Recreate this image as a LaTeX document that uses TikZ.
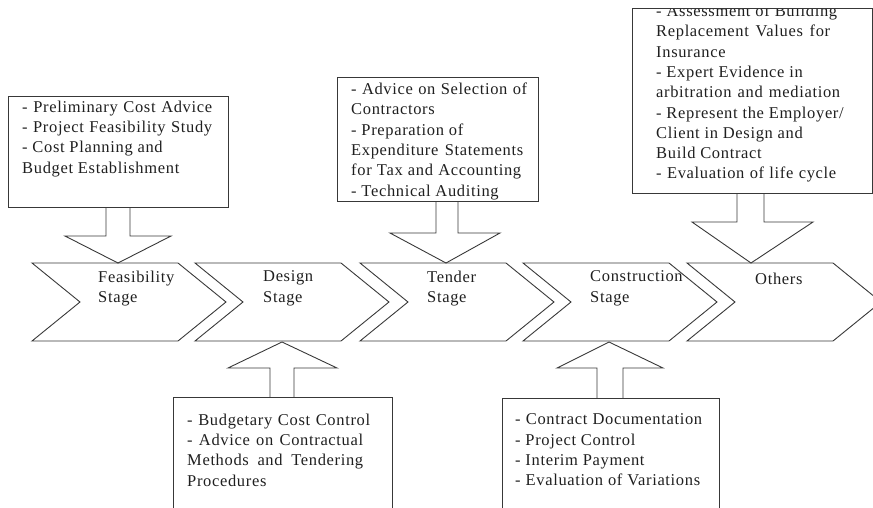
\documentclass[tikz,border=0pt]{standalone}
\usepackage{fontspec}
\setmainfont{Liberation Serif}[LetterSpace=4]
% a justified line of given width
\newcommand\spreadline[2]{\makebox[#1][s]{#2}}
\begin{document}
\begin{tikzpicture}[x=1pt,y=-1pt,
  outline/.style={draw=black!78, line width=0.9pt, line join=miter},
  txt/.style={anchor=north west, inner sep=0pt, align=left, text=black!88,
    font=\fontsize{16.5}{20.3}\selectfont},
]
\useasboundingbox (0,0) rectangle (873,507);
\clip (0,0) rectangle (873,507);

% ---- stage chevrons ----
\foreach \L/\nm in {32/feas,195/design,360/tender,523/constr,687/others}{
  \draw[outline] (\L,263) -- ++(146,0) -- ++(48,39) -- ++(-48,39)
    -- ++(-146,0) -- ++(48,-39) -- cycle;
}
\node[txt] (lfeas)   at (98,270.7)  {Feasibility\\Stage};
\node[txt] (ldesign) at (263,270.7) {Design\\Stage};
\node[txt] (ltender) at (427,270.7) {Tender\\Stage};
\node[txt] (lconstr) at (590,270.7) {Construction\\Stage};
\node[txt] (lothers) at (755,272.7) {Others};

% ---- feasibility services (above) ----
\draw[outline] (8,96) rectangle (228,207);
\draw[outline] (106,207) -- (106,236) -- (65,236) -- (118,263) -- (171,236)
  -- (130,236) -- (130,207);
\node[txt] (tfeas) at (22,100.7) {\spreadline{190pt}{- Preliminary Cost Advice}\\
  \spreadline{190pt}{- Project Feasibility Study}\\
  - Cost Planning and\\
  Budget Establishment};

% ---- tender services (above) ----
\draw[outline] (337,77) rectangle (538,201);
\draw[outline] (436,201) -- (436,233) -- (390,233) -- (446,263) -- (500,233)
  -- (458,233) -- (458,201);
\node[txt] (ttender) at (351,82.7) {\spreadline{176pt}{- Advice on Selection of}\\
  Contractors\\
  - Preparation of\\
  \spreadline{172pt}{Expenditure Statements}\\
  \spreadline{170pt}{for Tax and Accounting}\\
  - Technical Auditing};

% ---- other services (above) ----
\begin{scope}
  \clip (632,8) rectangle (872,193);
  \node[txt] (tothers) at (656,4.7) {\spreadline{181pt}{- Assessment of Building}\\
    \spreadline{174pt}{Replacement Values for}\\
    Insurance\\
    - Expert Evidence in\\
    \spreadline{184pt}{arbitration and mediation}\\
    - Represent the Employer/\\
    Client in Design and\\
    Build Contract\\
    \spreadline{180pt}{- Evaluation of life cycle}};
\end{scope}
\draw[outline] (632,8) rectangle (872,193);
\draw[outline] (737,193) -- (737,222) -- (692,222) -- (751,263) -- (813,222)
  -- (764,222) -- (764,193);

% ---- design services (below) ----
\draw[outline] (173,530) -- (173,397) -- (392,397) -- (392,530);
\draw[outline] (270,397) -- (270,368) -- (228,368) -- (282,342) -- (337,368)
  -- (294,368) -- (294,397);
\node[txt] (tdesign) at (187,413.7) {\spreadline{183pt}{- Budgetary Cost Control}\\
  \spreadline{176pt}{- Advice on Contractual}\\
  \spreadline{176pt}{Methods and Tendering}\\
  Procedures};

% ---- construction services (below) ----
\draw[outline] (502,530) -- (502,398) -- (719,398) -- (719,530);
\draw[outline] (597,398) -- (597,368) -- (557,368) -- (609,342) -- (663,368)
  -- (623,368) -- (623,398);
\node[txt] (tconstr) at (515,413.7) {\spreadline{187pt}{- Contract Documentation}\\
  - Project Control\\
  - Interim Payment\\
  \spreadline{185pt}{- Evaluation of Variations}};
\end{tikzpicture}
\end{document}
